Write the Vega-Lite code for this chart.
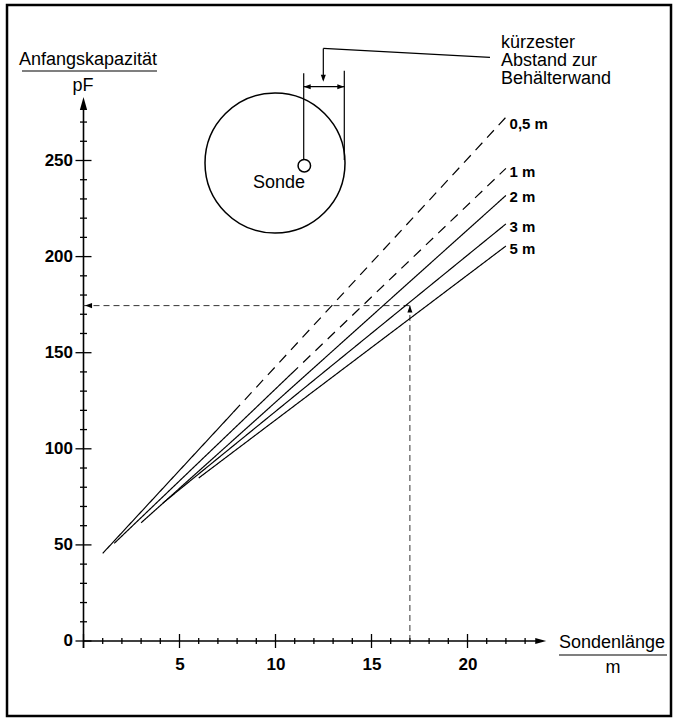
{
  "$schema": "https://vega.github.io/schema/vega-lite/v6.json",
  "width": 676,
  "height": 722,
  "padding": 0,
  "autosize": {"type": "none"},
  "background": "white",
  "config": {"view": {"stroke": null}},
  "datasets": {
    "frame": [{"x": -3.984, "y": 330.9, "x2": 30.599, "y2": -39.02}],
    "axes": [
      {"x": 0, "y": -3.6, "x2": 0, "y2": 278},
      {"x": 0, "y": 0, "x2": 23.7, "y2": 0}
    ],
    "curves": [
      {"curve": "0,5 m", "kind": "gemessen", "x": 1.0, "y": 45.6, "x2": 7.8, "y2": 119.0},
      {"curve": "0,5 m", "kind": "extrapoliert", "x": 7.8, "y": 119.0, "x2": 22.0, "y2": 272.5},
      {"curve": "1 m", "kind": "gemessen", "x": 1.6, "y": 50.8, "x2": 10.8, "y2": 138.8},
      {"curve": "1 m", "kind": "extrapoliert", "x": 10.8, "y": 138.8, "x2": 22.0, "y2": 245.9},
      {"curve": "2 m", "kind": "gemessen", "x": 3.0, "y": 61.5, "x2": 22.0, "y2": 231.8},
      {"curve": "3 m", "kind": "gemessen", "x": 4.14, "y": 71.8, "x2": 22.0, "y2": 217.0},
      {"curve": "5 m", "kind": "gemessen", "x": 6.0, "y": 84.8, "x2": 22.0, "y2": 205.5}
    ],
    "readout": [
      {"x": 0, "y": 174.5, "x2": 17, "y2": 174.5},
      {"x": 17, "y": 0, "x2": 17, "y2": 174.5}
    ],
    "diagramLines": [
      {"x": 11.469, "y": 250.5, "x2": 11.469, "y2": 295.4},
      {"x": 13.583, "y": 250.3, "x2": 13.583, "y2": 296.7},
      {"x": 11.469, "y": 288.4, "x2": 13.583, "y2": 288.4},
      {"x": 12.49, "y": 292.0, "x2": 12.49, "y2": 308.3},
      {"x": 12.49, "y": 308.3, "x2": 21.172, "y2": 303.69}
    ],
    "fractionBars": [
      {"x": -3.203, "y": 296.57, "x2": 3.828, "y2": 296.57},
      {"x": 24.766, "y": -7.284, "x2": 30.391, "y2": -7.284}
    ],
    "vessel": [{"x": 9.974, "y": 248.7}],
    "probe": [{"x": 11.5, "y": 247.3}],
    "arrowLeft": [{"x": 11.469, "y": 288.4}, {"x": 0.08, "y": 174.5}],
    "arrowRight": [{"x": 13.583, "y": 288.4}],
    "arrowDown": [{"x": 12.49, "y": 291.0}],
    "arrowUp": [{"x": 17, "y": 174.5}],
    "axisArrowY": [{"x": 0, "y": 283}],
    "axisArrowX": [{"x": 24.1, "y": 0}],
    "yMajor": [{"x": 0, "y": 0}, {"x": 0, "y": 50}, {"x": 0, "y": 100}, {"x": 0, "y": 150}, {"x": 0, "y": 200}, {"x": 0, "y": 250}],
    "yMinor": [{"x": 0, "y": 10}, {"x": 0, "y": 20}, {"x": 0, "y": 30}, {"x": 0, "y": 40}, {"x": 0, "y": 60}, {"x": 0, "y": 70}, {"x": 0, "y": 80}, {"x": 0, "y": 90}, {"x": 0, "y": 110}, {"x": 0, "y": 120}, {"x": 0, "y": 130}, {"x": 0, "y": 140}, {"x": 0, "y": 160}, {"x": 0, "y": 170}, {"x": 0, "y": 180}, {"x": 0, "y": 190}, {"x": 0, "y": 210}, {"x": 0, "y": 220}, {"x": 0, "y": 230}, {"x": 0, "y": 240}, {"x": 0, "y": 260}, {"x": 0, "y": 270}],
    "xMajor": [{"x": 0, "y": 0}, {"x": 5, "y": 0}, {"x": 10, "y": 0}, {"x": 15, "y": 0}, {"x": 20, "y": 0}],
    "xMinor": [{"x": 1, "y": 0}, {"x": 2, "y": 0}, {"x": 3, "y": 0}, {"x": 4, "y": 0}, {"x": 6, "y": 0}, {"x": 7, "y": 0}, {"x": 8, "y": 0}, {"x": 9, "y": 0}, {"x": 11, "y": 0}, {"x": 12, "y": 0}, {"x": 13, "y": 0}, {"x": 14, "y": 0}, {"x": 16, "y": 0}, {"x": 17, "y": 0}, {"x": 18, "y": 0}, {"x": 19, "y": 0}, {"x": 21, "y": 0}, {"x": 22, "y": 0}, {"x": 23, "y": 0}],
    "textsLeft": [
      {"x": -3.359, "y": 299.9, "label": "Anfangskapazität"},
      {"x": 24.766, "y": -3.64, "label": "Sondenlänge"},
      {"x": 8.828, "y": 235.5, "label": "Sonde"},
      {"x": 21.745, "y": 308.79, "label": "kürzester"},
      {"x": 21.745, "y": 299.27, "label": "Abstand zur"},
      {"x": 21.745, "y": 289.75, "label": "Behälterwand"}
    ],
    "textsCenter": [
      {"x": -0.026, "y": 286.2, "label": "pF"},
      {"x": 27.578, "y": -16.65, "label": "m"}
    ],
    "curveLabels": [
      {"x": 22.19, "y": 268.99, "label": "0,5 m"},
      {"x": 22.19, "y": 244.17, "label": "1 m"},
      {"x": 22.19, "y": 231.17, "label": "2 m"},
      {"x": 22.19, "y": 215.56, "label": "3 m"},
      {"x": 22.19, "y": 203.8, "label": "5 m"}
    ]
  },
  "encoding": {
    "x": {
      "field": "x", "type": "quantitative",
      "scale": {"domain": [-4.349, 30.859], "nice": false, "zero": false},
      "axis": {"values": [5, 10, 15, 20], "offset": -81, "zindex": 2, "domain": false, "ticks": false, "grid": false, "labelPadding": 15, "labelFont": "Liberation Sans", "labelFontSize": 17, "labelFontWeight": "bold", "labelColor": "black", "labelFlush": false, "labelOverlap": false, "labelBound": false, "labelAngle": 0, "title": null}
    },
    "y": {
      "field": "y", "type": "quantitative",
      "scale": {"domain": [-42.144, 333.507], "nice": false, "zero": false},
      "axis": {"values": [0, 50, 100, 150, 200, 250], "offset": -83.5, "zindex": 2, "domain": false, "ticks": false, "grid": false, "labelPadding": 11, "labelFont": "Liberation Sans", "labelFontSize": 17, "labelFontWeight": "bold", "labelColor": "black", "labelFlush": false, "labelOverlap": false, "labelBound": false, "title": null}
    }
  },
  "layer": [
    {"data": {"name": "frame"}, "mark": {"type": "rect", "fill": "white", "fillOpacity": 0, "stroke": "black", "strokeWidth": 2.5}, "encoding": {"x2": {"field": "x2"}, "y2": {"field": "y2"}}},
    {"data": {"name": "axes"}, "mark": {"type": "rule", "color": "black", "strokeWidth": 1.6}, "encoding": {"x2": {"field": "x2"}, "y2": {"field": "y2"}}},
    {"data": {"name": "yMajor"}, "mark": {"type": "point", "shape": "M-1,0L1,0", "size": 256, "filled": false, "stroke": "black", "strokeWidth": 1.3, "opacity": 1}},
    {"data": {"name": "yMinor"}, "mark": {"type": "point", "shape": "M-1,0L1,0", "size": 49, "filled": false, "stroke": "black", "strokeWidth": 1.3, "opacity": 1}},
    {"data": {"name": "xMajor"}, "mark": {"type": "point", "shape": "M0,-1L0,1", "size": 196, "filled": false, "stroke": "black", "strokeWidth": 1.3, "opacity": 1}},
    {"data": {"name": "xMinor"}, "mark": {"type": "point", "shape": "M0,-1L0,1", "size": 36, "filled": false, "stroke": "black", "strokeWidth": 1.3, "opacity": 1}},
    {"data": {"name": "axisArrowY"}, "mark": {"type": "point", "shape": "M0,0L-0.28,1L0.28,1Z", "size": 676, "filled": true, "color": "black", "opacity": 1}},
    {"data": {"name": "axisArrowX"}, "mark": {"type": "point", "shape": "M0,0L-1,-0.28L-1,0.28Z", "size": 484, "filled": true, "color": "black", "opacity": 1}},
    {"data": {"name": "readout"}, "mark": {"type": "rule", "color": "#333333", "strokeWidth": 1, "strokeDash": [6, 4]}, "encoding": {"x2": {"field": "x2"}, "y2": {"field": "y2"}}},
    {"data": {"name": "curves"}, "mark": {"type": "rule", "color": "black", "strokeWidth": 1.2}, "encoding": {"x2": {"field": "x2"}, "y2": {"field": "y2"}, "strokeDash": {"field": "kind", "type": "nominal", "scale": {"domain": ["gemessen", "extrapoliert"], "range": [[1, 0], [10, 7]]}, "legend": null}}},
    {"data": {"name": "diagramLines"}, "mark": {"type": "rule", "color": "black", "strokeWidth": 1.2}, "encoding": {"x2": {"field": "x2"}, "y2": {"field": "y2"}}},
    {"data": {"name": "fractionBars"}, "mark": {"type": "rule", "color": "black", "strokeWidth": 1.2}, "encoding": {"x2": {"field": "x2"}, "y2": {"field": "y2"}}},
    {"data": {"name": "vessel"}, "mark": {"type": "point", "shape": "circle", "size": 19600, "filled": false, "stroke": "black", "strokeWidth": 1.5, "opacity": 1}},
    {"data": {"name": "probe"}, "mark": {"type": "point", "shape": "circle", "size": 156, "filled": true, "fill": "white", "stroke": "black", "strokeWidth": 1.5, "opacity": 1}},
    {"data": {"name": "arrowLeft"}, "mark": {"type": "point", "shape": "M0,0L1,-0.36L1,0.36Z", "size": 196, "filled": true, "color": "black", "opacity": 1}},
    {"data": {"name": "arrowRight"}, "mark": {"type": "point", "shape": "M0,0L-1,-0.36L-1,0.36Z", "size": 196, "filled": true, "color": "black", "opacity": 1}},
    {"data": {"name": "arrowDown"}, "mark": {"type": "point", "shape": "M0,0L-0.36,-1L0.36,-1Z", "size": 196, "filled": true, "color": "black", "opacity": 1}},
    {"data": {"name": "arrowUp"}, "mark": {"type": "point", "shape": "M0,0L-0.36,1L0.36,1Z", "size": 196, "filled": true, "color": "black", "opacity": 1}},
    {"data": {"name": "textsLeft"}, "mark": {"type": "text", "align": "left", "baseline": "alphabetic", "font": "Liberation Sans", "fontSize": 18, "color": "black"}, "encoding": {"text": {"field": "label"}}},
    {"data": {"name": "textsCenter"}, "mark": {"type": "text", "align": "center", "baseline": "alphabetic", "font": "Liberation Sans", "fontSize": 18, "color": "black"}, "encoding": {"text": {"field": "label"}}},
    {"data": {"name": "curveLabels"}, "mark": {"type": "text", "align": "left", "baseline": "middle", "font": "Liberation Sans", "fontSize": 15, "fontWeight": "bold", "color": "black"}, "encoding": {"text": {"field": "label"}}}
  ]
}
